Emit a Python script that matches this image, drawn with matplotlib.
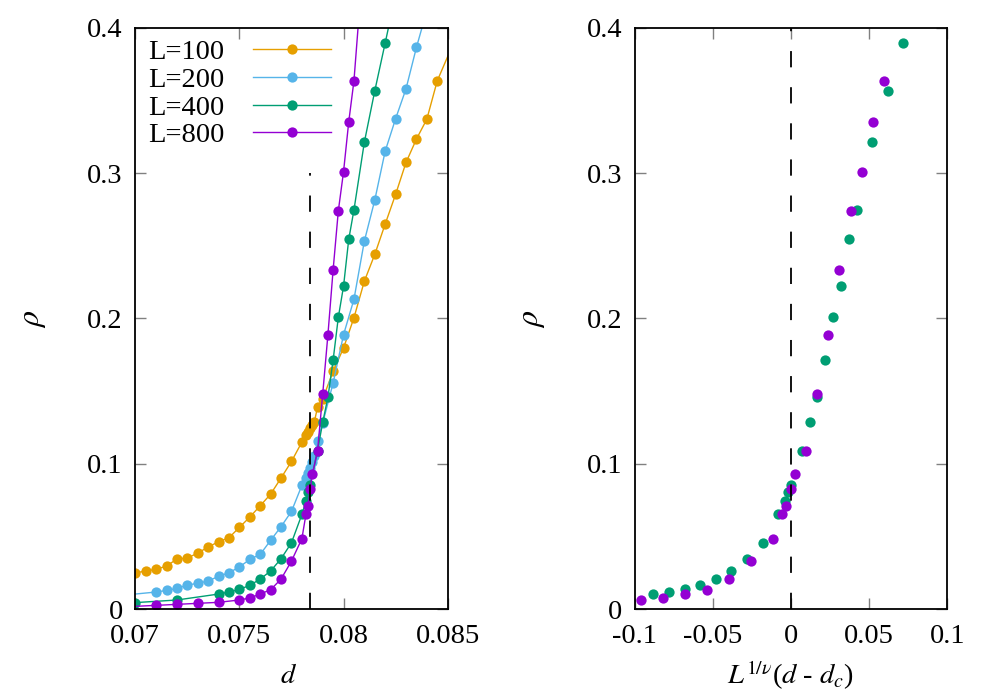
import numpy as np
import matplotlib.pyplot as plt

plt.rcParams['font.family'] = ['Liberation Serif', 'DejaVu Serif']
plt.rcParams['mathtext.fontset'] = 'stix'
plt.rcParams['font.size'] = 20.5

# critical point and exponent used for the collapse
dc = 0.0784
nu = 2.0
dash_top = 0.3

# L = 100
d100 = [0.0700, 0.0705, 0.0710, 0.0715, 0.0720, 0.0725, 0.0730, 0.0735, 0.0740,
        0.0745, 0.0750, 0.0755, 0.0760, 0.0765, 0.0770, 0.0775, 0.0780, 0.0782,
        0.0783, 0.0784, 0.0785, 0.0786, 0.07875, 0.0790, 0.0795, 0.0800, 0.0805,
        0.0810, 0.0815, 0.0820, 0.0825, 0.0830, 0.0835, 0.0840, 0.0845, 0.0855]
r100 = [0.0248, 0.0262, 0.0273, 0.0296, 0.0344, 0.0351, 0.0385, 0.0427, 0.0463,
        0.0491, 0.0562, 0.0633, 0.0711, 0.0791, 0.0902, 0.1016, 0.1149, 0.1195,
        0.1220, 0.1245, 0.1270, 0.1290, 0.1388, 0.1447, 0.1636, 0.1797, 0.2005,
        0.2257, 0.2441, 0.2650, 0.2854, 0.3074, 0.3235, 0.3372, 0.3636, 0.3970]

# L = 200
d200 = [0.0690, 0.0710, 0.0715, 0.0720, 0.0725, 0.0730, 0.0735, 0.0740, 0.0745,
        0.0750, 0.0755, 0.0760, 0.0765, 0.0770, 0.0775, 0.0780, 0.0782, 0.0783,
        0.0784, 0.0785, 0.0786, 0.07875, 0.0790, 0.0795, 0.0800, 0.0805, 0.0810,
        0.0815, 0.0820, 0.0825, 0.0830, 0.0835, 0.0840]
r200 = [0.0089, 0.0117, 0.0128, 0.0142, 0.0165, 0.0177, 0.0193, 0.0225, 0.0250,
        0.0289, 0.0342, 0.0376, 0.0473, 0.0567, 0.0672, 0.0851, 0.0900, 0.0935,
        0.0970, 0.1010, 0.1050, 0.1158, 0.1280, 0.1556, 0.1888, 0.2132, 0.2533,
        0.2815, 0.3152, 0.3375, 0.3581, 0.3866, 0.4120]

# L = 400
d400 = [0.0700, 0.0720, 0.0740, 0.0745, 0.0750, 0.0755, 0.0760, 0.0765, 0.0770,
        0.0775, 0.0780, 0.0782, 0.0783, 0.0784, 0.07875, 0.0790, 0.07925, 0.0795,
        0.07975, 0.0800, 0.08025, 0.0805, 0.0810, 0.0815, 0.0820, 0.0825]
r400 = [0.0044, 0.0062, 0.0103, 0.0117, 0.0135, 0.0163, 0.0206, 0.0262, 0.0346,
        0.0456, 0.0651, 0.0743, 0.0807, 0.0853, 0.1090, 0.1285, 0.1457, 0.1714,
        0.2008, 0.2222, 0.2545, 0.2747, 0.3214, 0.3567, 0.3897, 0.4230]

# L = 800
d800 = [0.0690, 0.0710, 0.0720, 0.0730, 0.0740, 0.0750, 0.0755, 0.0760, 0.0765,
        0.0770, 0.0775, 0.0780, 0.0782, 0.0783, 0.0784, 0.0785, 0.07875, 0.0790,
        0.07925, 0.0795, 0.07975, 0.0800, 0.08025, 0.0805, 0.08075]
r800 = [0.0012, 0.0025, 0.0032, 0.0039, 0.0046, 0.0062, 0.0076, 0.0103, 0.0133,
        0.0206, 0.0330, 0.0484, 0.0656, 0.0711, 0.0824, 0.0927, 0.1087, 0.1480,
        0.1888, 0.2335, 0.2741, 0.3010, 0.3354, 0.3636, 0.4100]

sizes = [100, 200, 400, 800]
colors = ['#E69F00', '#56B4E9', '#009E73', '#9400D3']
labels = ['L=100', 'L=200', 'L=400', 'L=800']
data = [(d100, r100), (d200, r200), (d400, r400), (d800, r800)]

fig = plt.figure(figsize=(9.97, 6.98), dpi=100)
ax1 = fig.add_axes([0.1357, 0.1275, 0.3133, 0.8324])
ax2 = fig.add_axes([0.6365, 0.1275, 0.3135, 0.8324])

for (d, r), c, lab in zip(data, colors, labels):
    ax1.plot(d, r, '-o', color=c, lw=1.0, ms=7.4, mew=0, label=lab)
ax1.plot([dc, dc], [0, dash_top], color='black', lw=1.3, dashes=(9, 11))

ax1.set_xlim(0.07, 0.085)
ax1.set_ylim(0, 0.4)
ax1.set_xticks([0.07, 0.075, 0.08, 0.085])
ax1.set_xticklabels(['0.07', '0.075', '0.08', '0.085'])
ax1.set_yticks([0, 0.1, 0.2, 0.3, 0.4])
ax1.set_yticklabels(['0', '0.1', '0.2', '0.3', '0.4'])
ax1.set_xlabel(r'$d$')
ax1.set_ylabel(r'$\rho$', fontsize=23)
ax1.legend(loc='upper left', frameon=False, markerfirst=False, handlelength=2.75,
           handletextpad=1.0, labelspacing=0.06, borderaxespad=0.0,
           bbox_to_anchor=(0.005, 1.0))

# scaling collapse for the two largest sizes
for (d, r), L, c in zip(data[2:], sizes[2:], colors[2:]):
    x = L ** (1.0 / nu) * (np.array(d) - dc)
    ax2.plot(x, r, 'o', color=c, ms=7.4, mew=0)
ax2.axvline(0, color='black', lw=1.3, dashes=(9, 11))

ax2.set_xlim(-0.1, 0.1)
ax2.set_ylim(0, 0.4)
ax2.set_xticks([-0.1, -0.05, 0, 0.05, 0.1])
ax2.set_xticklabels(['-0.1', '-0.05', '0', '0.05', '0.1'])
ax2.set_yticks([0, 0.1, 0.2, 0.3, 0.4])
ax2.set_yticklabels(['0', '0.1', '0.2', '0.3', '0.4'])
ax2.set_xlabel(r'$L^{1/\nu}$($d$ - $d_c$)')
ax2.set_ylabel(r'$\rho$', fontsize=23)

for ax in (ax1, ax2):
    ax.tick_params(direction='in', length=8, width=1, color='#808080',
                   top=True, right=True, pad=9)
    ax.tick_params(axis='x', pad=11)
    for s in ax.spines.values():
        s.set_linewidth(1.3)
    ax.yaxis.set_label_coords(-0.28, 0.5)
ax1.xaxis.set_label_coords(0.49, -0.095)
ax2.xaxis.set_label_coords(0.5, -0.085)

fig.savefig('out.png', dpi=100)
